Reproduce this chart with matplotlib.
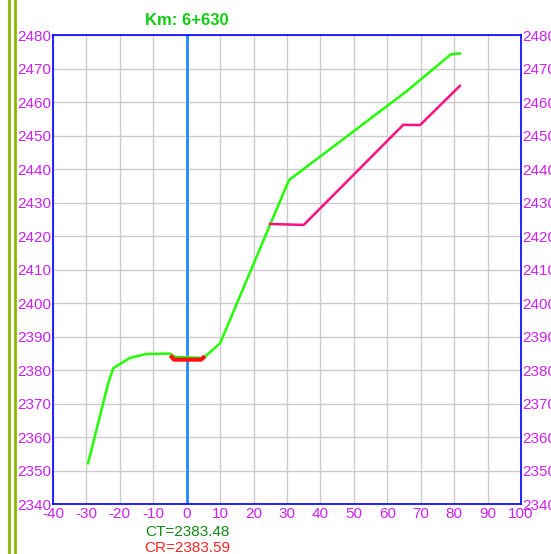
import matplotlib.pyplot as plt
from matplotlib.lines import Line2D

plt.rcParams['font.family'] = ['Liberation Sans', 'DejaVu Sans']
plt.rcParams['axes.unicode_minus'] = False

# terrain (green) profile
terrain_x = [-29.5, -23.5, -22.0, -17.0, -12.0, -5.0, -3.5, 5.0, 10.0, 24.9, 30.6, 65.9, 79.0, 81.7]
terrain_y = [2352.2, 2376.0, 2380.5, 2383.6, 2384.8, 2384.9, 2383.9, 2383.6, 2388.0, 2423.3, 2436.7, 2463.3, 2474.2, 2474.5]

# road section (red) at center
road_x = [-4.5, -3.8, 4.3, 5.0]
road_y = [2383.9, 2383.1, 2383.1, 2383.7]

# pink profile
pink_x = [24.9, 35.0, 64.8, 69.8, 81.7]
pink_y = [2423.6, 2423.3, 2453.2, 2453.1, 2464.8]

xticks = list(range(-40, 101, 10))
yticks = list(range(2340, 2481, 10))

title = 'Km: 6+630'
ct_text = 'CT=2383.48'
cr_text = 'CR=2383.59'

purple = '#cc22ee'

fig = plt.figure(figsize=(5.51, 5.54), dpi=100)
ax = fig.add_axes([53 / 551, 50 / 554, 468 / 551, 469 / 554])

ax.set_xlim(-40, 100)
ax.set_ylim(2340, 2480)
ax.set_xticks(xticks)
ax.set_yticks(yticks)
ax.grid(True, color='#cccccc', linewidth=1)
ax.set_axisbelow(True)

ax.tick_params(axis='both', length=0, labelsize=11, labelcolor=purple)
ax.tick_params(axis='y', labelright=True, pad=1)
ax.tick_params(axis='x', pad=2)
for s in ax.spines.values():
    s.set_color('#0000ff')
    s.set_linewidth(1.2)

ax.axvline(0, color='#2288ff', linewidth=2)
ax.plot(terrain_x, terrain_y, color='#22ff00', linewidth=1.8)
ax.plot(pink_x, pink_y, color='#ff0f80', linewidth=1.8)
ax.plot(road_x, road_y, color='#ff1010', linewidth=3)

ax.text(0, 2482, title, ha='center', va='bottom', color='#11cc11',
        fontsize=12, fontweight='bold')

fig.text(187 / 551, 1 - 532 / 554, ct_text, ha='center', va='center',
         color='#118811', fontsize=11)
fig.text(187 / 551, 1 - 548 / 554, cr_text, ha='center', va='center',
         color='#ff2222', fontsize=11)

# double bar at the left edge
for xp in [9 / 551, 15 / 551]:
    fig.add_artist(Line2D([xp, xp], [0, 1], transform=fig.transFigure,
                          color='#8db600', linewidth=2))

fig.savefig('out.png', dpi=100)
